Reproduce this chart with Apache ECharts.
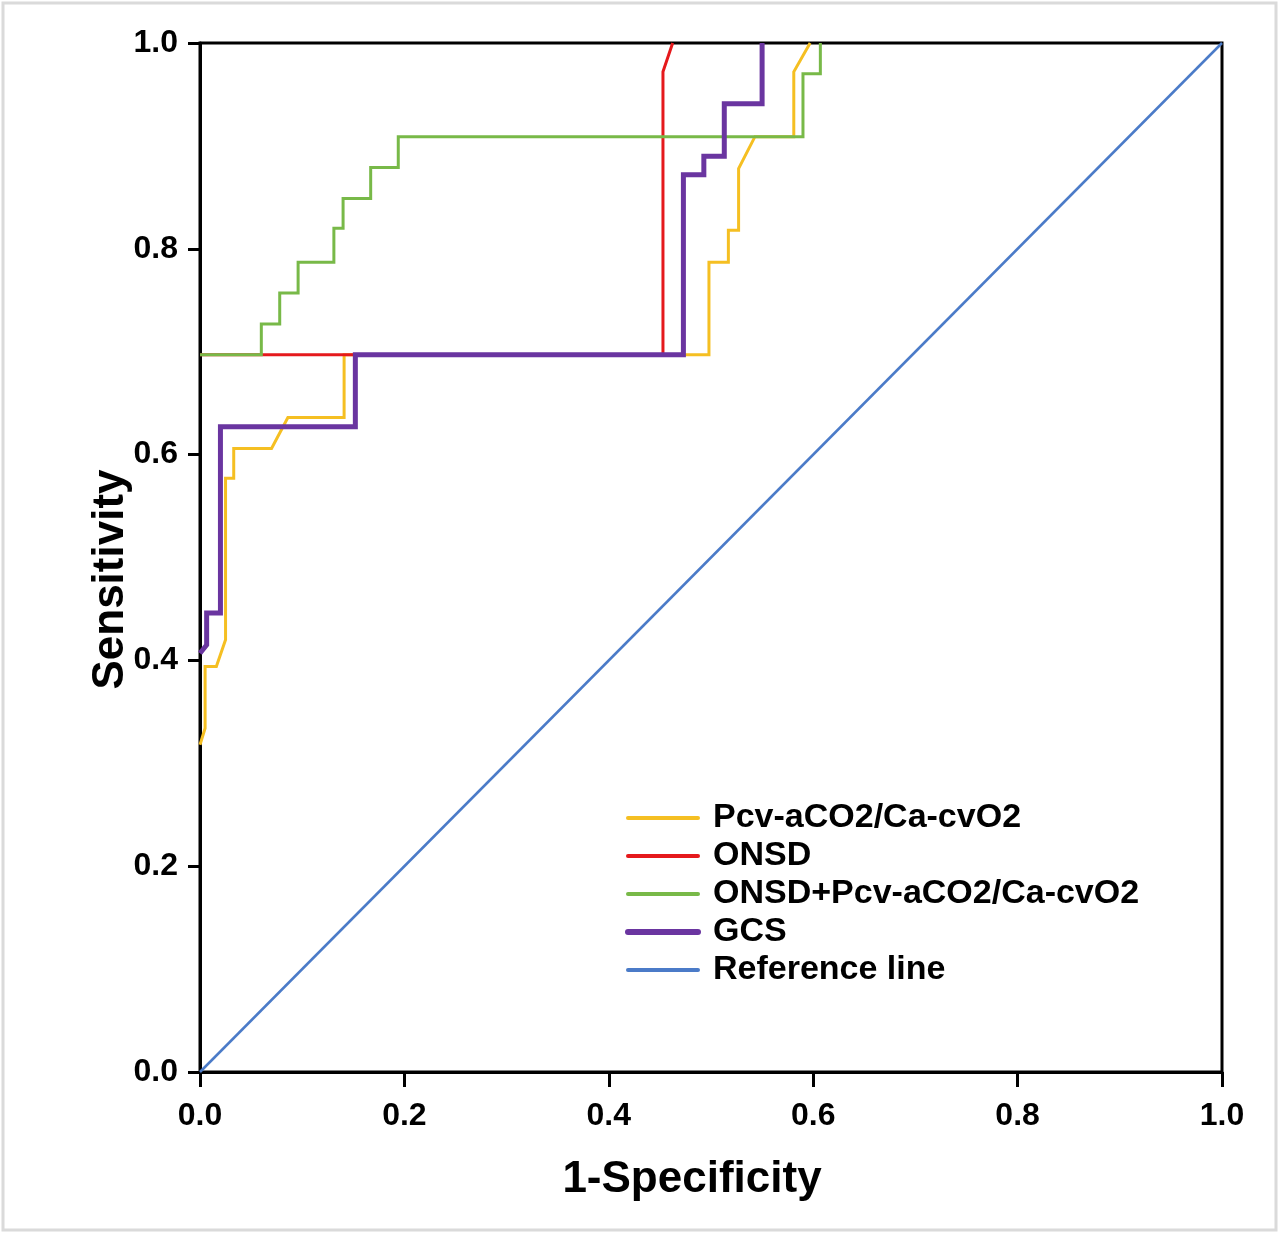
<!DOCTYPE html>
<html><head><meta charset="utf-8">
<script src="https://cdn.jsdelivr.net/npm/echarts@6/dist/echarts.min.js"></script>
<style>html,body{margin:0;padding:0;background:#fff}#c{width:1280px;height:1236px}</style>
</head><body><div id="c"></div>
<script>
// 1-Specificity (x) and Sensitivity (y) for each curve
const pcvX = [0, 0.005, 0.005, 0.016, 0.025, 0.025, 0.033, 0.033, 0.070, 0.086, 0.141, 0.141, 0.498, 0.498, 0.517, 0.517, 0.527, 0.527, 0.543, 0.581, 0.581, 0.597];
const pcvY = [0.318, 0.334, 0.394, 0.394, 0.420, 0.577, 0.577, 0.606, 0.606, 0.636, 0.636, 0.697, 0.697, 0.787, 0.787, 0.818, 0.818, 0.878, 0.909, 0.909, 0.972, 1.0];
const onsdX = [0, 0.453, 0.453, 0.4625];
const onsdY = [0.697, 0.697, 0.972, 1.0];
const comboX = [0, 0.060, 0.060, 0.078, 0.078, 0.096, 0.096, 0.131, 0.131, 0.140, 0.140, 0.167, 0.167, 0.194, 0.194, 0.590, 0.590, 0.607, 0.607];
const comboY = [0.697, 0.697, 0.727, 0.727, 0.757, 0.757, 0.787, 0.787, 0.820, 0.820, 0.849, 0.849, 0.879, 0.879, 0.909, 0.909, 0.970, 0.970, 1.0];
const gcsX = [0, 0.0065, 0.0065, 0.020, 0.020, 0.152, 0.152, 0.473, 0.473, 0.493, 0.493, 0.513, 0.513, 0.550, 0.550];
const gcsY = [0.407, 0.415, 0.446, 0.446, 0.627, 0.627, 0.697, 0.697, 0.872, 0.872, 0.890, 0.890, 0.941, 0.941, 1.0];
const refX = [0, 1];
const refY = [0, 1];
const seriesNames = ['Pcv-aCO2/Ca-cvO2', 'ONSD', 'ONSD+Pcv-aCO2/Ca-cvO2', 'GCS', 'Reference line'];
const tickValues = ['0.0', '0.2', '0.4', '0.6', '0.8', '1.0'];

const zip = (xs, ys) => xs.map((x, i) => [x, ys[i]]);
const F = '"Liberation Sans", Arial, Helvetica, sans-serif';
const colors = ['#F5BF22', '#E5191C', '#78B948', '#6A35A0', '#4B7BC8'];
const widths = [3, 3, 3, 5, 2.5];
const legendWidths = [4, 4, 4, 6, 4];
const datas = [zip(pcvX, pcvY), zip(onsdX, onsdY), zip(comboX, comboY), zip(gcsX, gcsY), zip(refX, refY)];

const chart = echarts.init(document.getElementById('c'), null, {renderer: 'canvas'});
const axisCommon = {
  type: 'value', min: 0, max: 1, interval: 0.2,
  splitLine: {show: false},
  axisLine: {show: true, onZero: false, lineStyle: {color: '#000', width: 3}},
  axisLabel: {color: '#000', fontFamily: F, fontWeight: 'bold', fontSize: 32, formatter: v => tickValues[Math.round(v * 5)]},
  nameLocation: 'middle',
  nameMoveOverlap: false
};
chart.setOption({
  animation: false,
  backgroundColor: '#fff',
  graphic: [{type: 'rect', shape: {x: 3, y: 3, width: 1273, height: 1227}, style: {fill: 'none', stroke: '#dadada', lineWidth: 3}, z: -1}],
  grid: {left: 200, right: 58, top: 43, bottom: 164, show: true, borderColor: '#000', borderWidth: 3},
  xAxis: Object.assign({}, axisCommon, {
    name: '1-Specificity', nameGap: 86,
    nameTextStyle: {color: '#000', fontFamily: F, fontWeight: 'bold', fontSize: 44, padding: [0, 38, 0, 0]},
    axisTick: {show: true, length: 15, lineStyle: {color: '#000', width: 3}},
    axisLabel: Object.assign({}, axisCommon.axisLabel, {margin: 28})
  }),
  yAxis: Object.assign({}, axisCommon, {
    name: 'Sensitivity', nameGap: 67, nameRotate: 90,
    nameTextStyle: {color: '#000', fontFamily: F, fontWeight: 'bold', fontSize: 44, padding: [0, 44, 0, 0]},
    axisTick: {show: true, length: 12, lineStyle: {color: '#000', width: 3}},
    axisLabel: Object.assign({}, axisCommon.axisLabel, {margin: 22})
  }),
  legend: {
    orient: 'vertical', left: 625, top: 801, padding: 0,
    itemWidth: 70, itemHeight: 5, itemGap: 4,
    data: seriesNames.map((n, i) => ({name: n, lineStyle: {width: legendWidths[i], cap: 'round'}})),
    itemStyle: {opacity: 0},
    textStyle: {color: '#000', fontFamily: F, fontWeight: 'bold', fontSize: 34, lineHeight: 33, padding: [0, 0, 0, 10]}
  },
  series: seriesNames.map((n, i) => ({
    name: n, type: 'line', data: datas[i], symbol: 'none', showSymbol: false,
    color: colors[i],
    lineStyle: {color: colors[i], width: widths[i], join: 'miter'},
    z: 2 + i
  }))
});
</script></body></html>
